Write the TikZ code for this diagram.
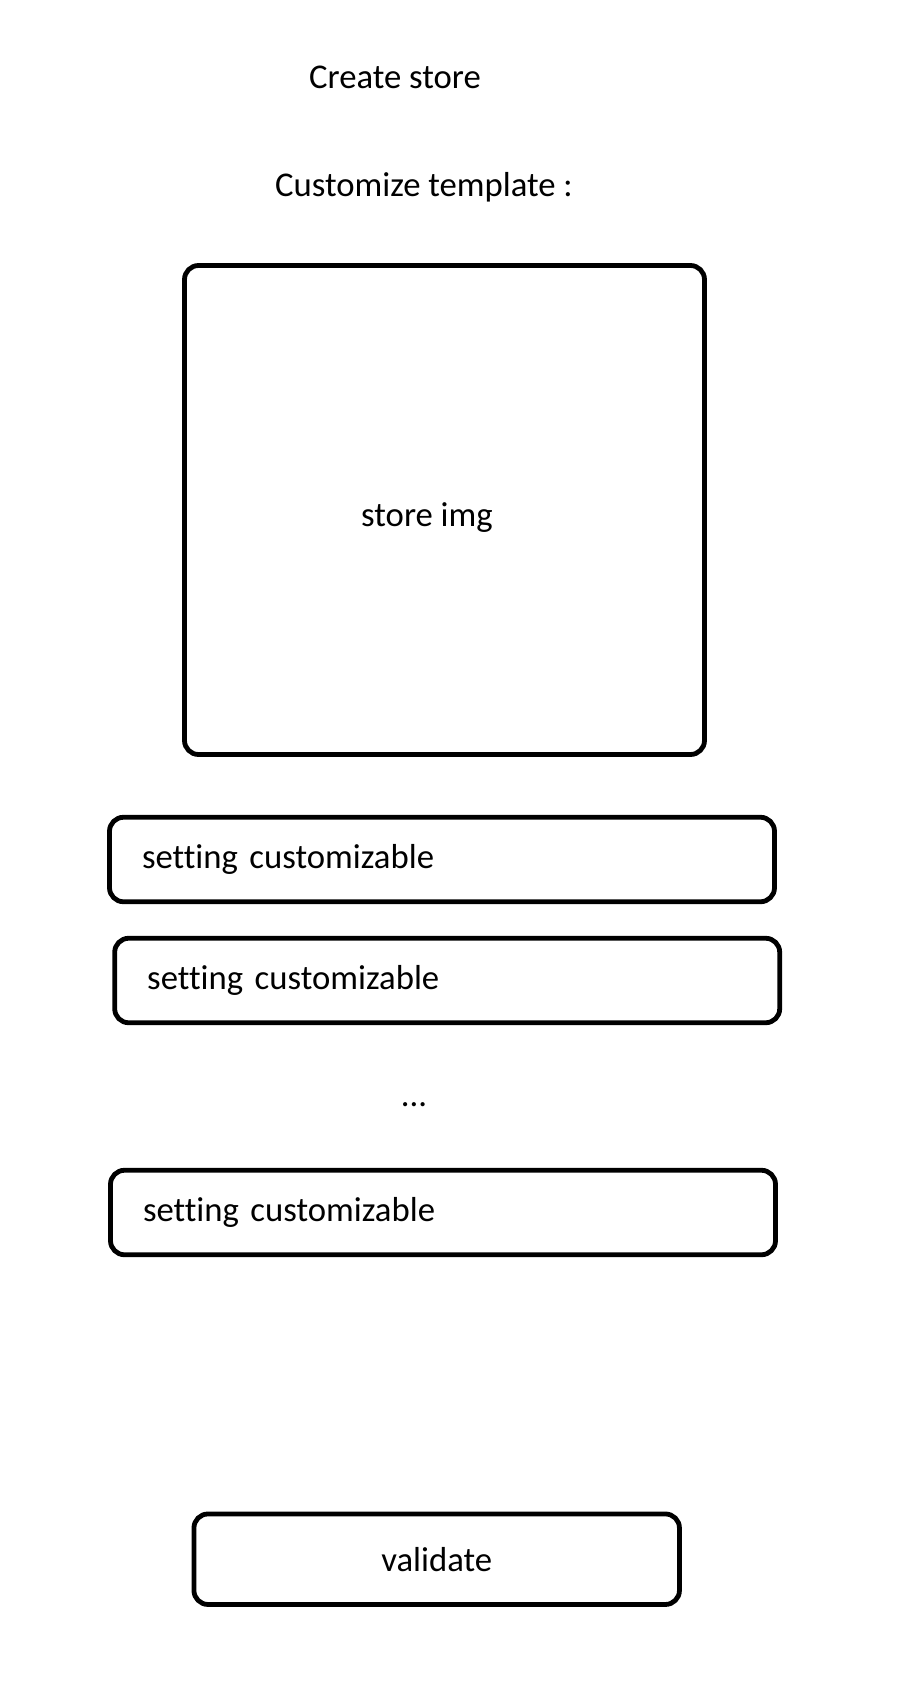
\documentclass[tikz,border=0pt]{standalone}
\usepackage{fontspec}
\setmainfont{Carlito}[Ligatures={NoCommon}]
\usepackage{tikz}
\usetikzlibrary{positioning}

\begin{document}
\begin{tikzpicture}[x=1pt, y=-1pt,
  every node/.style={font=\fontsize{34.7}{41}\selectfont},
  frame/.style={draw, line width=4.8pt, rounded corners=14pt},
  setting/.style={frame, minimum width=665pt, minimum height=84.5pt,
    text width=600pt, inner xsep=32.5pt, inner ysep=0pt, align=left}]

  \useasboundingbox (0,0) rectangle (906,1698);

  %% header
  \node[anchor=base] (title) at (395,88.3) {Create store};
  \node[anchor=base] (subtitle) at (424,196.7) {Customize template :};

  %% template preview
  \node[frame, minimum width=520pt, minimum height=489pt, inner sep=0pt] (img) at (444.5,510) {};
  \node[anchor=base] (imgtext) at (427,526.7) {store img};

  %% settings
  \node[setting] (set1) at (442,859.5) {setting customizable};
  \node[setting] (set2) at (447.2,980.5) {setting customizable};
  \node[anchor=base] (dots) at (414,1106) {...};
  \node[setting] (set3) at (443,1212.5) {setting customizable};

  %% button
  \node[frame, minimum width=485.5pt, minimum height=90.5pt] (validate) at (436.7,1559.2) {validate};
\end{tikzpicture}
\end{document}
